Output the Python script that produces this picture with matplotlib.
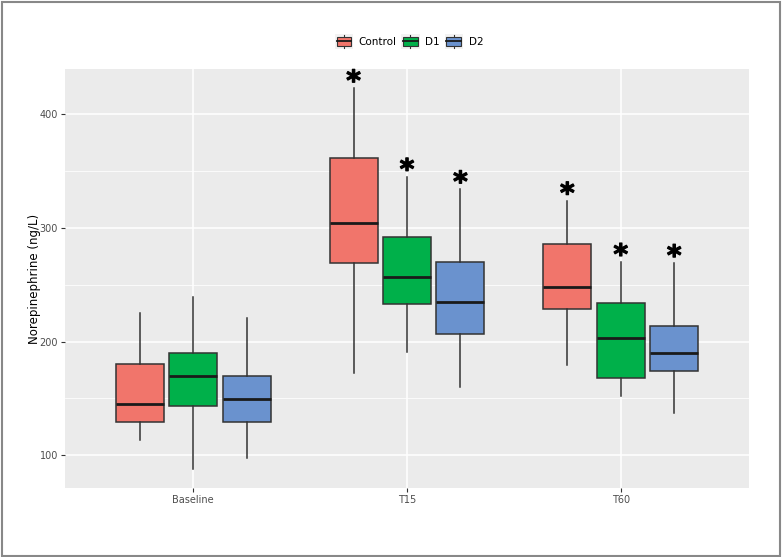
import matplotlib.pyplot as plt
import matplotlib.patheffects as pe
from matplotlib.patches import Rectangle
from matplotlib.lines import Line2D
from matplotlib.legend_handler import HandlerBase

# values (ng/L)
timepoints = ['Baseline', 'T15', 'T60']
groups = ['Control', 'D1', 'D2']
colors = ['#F1756B', '#00B04A', '#6A92CE']

# per group, per timepoint: whisker low, Q1, median, Q3, whisker high
whislo = {'Control': [113, 172, 179], 'D1': [88, 191, 152], 'D2': [97, 160, 137]}
q1 = {'Control': [129, 269, 229], 'D1': [143, 233, 168], 'D2': [129, 207, 174]}
med = {'Control': [145, 304, 248], 'D1': [170, 257, 203], 'D2': [149, 235, 190]}
q3 = {'Control': [180, 362, 286], 'D1': [190, 292, 234], 'D2': [170, 270, 214]}
whishi = {'Control': [225, 423, 324], 'D1': [239, 345, 270], 'D2': [221, 334, 269]}
# significance marks
signif = {'Control': [False, True, True], 'D1': [False, True, True], 'D2': [False, True, True]}

fig = plt.figure(figsize=(7.82, 5.57), dpi=100)
ax = fig.add_axes([0.0831, 0.1239, 0.8747, 0.7522])
ax.set_facecolor('#EBEBEB')

offsets = [-0.25, 0, 0.25]
width = 0.225
for g, c, off in zip(groups, colors, offsets):
    stats = []
    for i in range(len(timepoints)):
        stats.append(dict(whislo=whislo[g][i], q1=q1[g][i], med=med[g][i],
                          q3=q3[g][i], whishi=whishi[g][i], fliers=[]))
    pos = [i + 1 + off for i in range(len(timepoints))]
    ax.bxp(stats, positions=pos, widths=width, patch_artist=True, showcaps=False,
           boxprops=dict(facecolor=c, edgecolor='#333333', linewidth=1.1),
           medianprops=dict(color='#1a1a1a', linewidth=2.0),
           whiskerprops=dict(color='#333333', linewidth=1.1), zorder=3)
    for i, p in enumerate(pos):
        if signif[g][i]:
            ax.annotate('*', (p, whishi[g][i]), xytext=(0, -5.5), textcoords='offset points',
                        ha='center', va='bottom', fontsize=20, fontweight='bold', zorder=4,
                        path_effects=[pe.withStroke(linewidth=0.9, foreground='black')])

ax.set_xlim(0.4, 3.6)
ax.set_ylim(71, 440)
ax.set_xticks([1, 2, 3])
ax.set_xticklabels(timepoints)
ax.set_yticks([100, 200, 300, 400])
ax.set_yticks([150, 250, 350], minor=True)
ax.grid(which='major', color='white', linewidth=1.1, zorder=0)
ax.grid(which='minor', axis='y', color='white', linewidth=0.55, zorder=0)
ax.set_axisbelow(True)
for s in ax.spines.values():
    s.set_visible(False)
ax.tick_params(which='major', length=3, color='#333333', labelsize=7, labelcolor='#4D4D4D', pad=2)
ax.tick_params(which='minor', length=0)
ax.set_ylabel('Norepinephrine (ng/L)', fontsize=8.5, labelpad=-1)


class BoxKey(HandlerBase):
    def create_artists(self, legend, orig, xd, yd, w, h, fontsize, trans):
        c = orig.get_facecolor()
        x0, y0 = -xd, -yd
        bg = Rectangle((x0, y0), w, h, facecolor='#F2F2F2', edgecolor='none', transform=trans)
        wl = Line2D([x0 + w / 2, x0 + w / 2], [y0 + h * 0.05, y0 + h * 0.95], color='#333333', lw=0.8,
                    transform=trans)
        bx = Rectangle((x0 + w * 0.1, y0 + h * 0.2), w * 0.8, h * 0.6, facecolor=c, edgecolor='#333333',
                       lw=0.8, transform=trans)
        md = Line2D([x0 + w * 0.1, x0 + w * 0.9], [y0 + h / 2, y0 + h / 2], color='#1a1a1a', lw=1.3,
                    transform=trans)
        return [bg, wl, bx, md]


handles = [Rectangle((0, 0), 1, 1, facecolor=c) for c in colors]
fig.legend(handles, groups, loc='center', bbox_to_anchor=(0.523, 0.926), ncol=3, frameon=False,
           handler_map={Rectangle: BoxKey()}, fontsize=7.5, handlelength=1.75, handleheight=1.8,
           handletextpad=0.55, columnspacing=0.45)

fig.patches.append(Rectangle((0.002, 0.002), 0.995, 0.995, transform=fig.transFigure,
                             fill=False, edgecolor='#888888', linewidth=1.5))

fig.savefig('out.png', dpi=100)
